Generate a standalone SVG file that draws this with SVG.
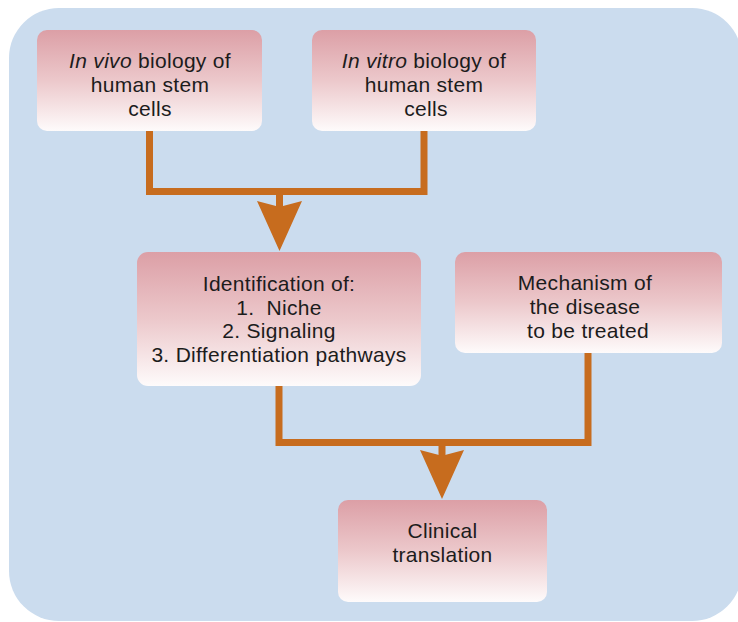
<svg xmlns="http://www.w3.org/2000/svg" width="738" height="622" viewBox="0 0 738 622">
<defs>
<linearGradient id="boxg" x1="0" y1="0" x2="0" y2="1">
<stop offset="0" stop-color="#dc9fa6"/>
<stop offset="0.5" stop-color="#ecc8cb"/>
<stop offset="1" stop-color="#fefbfb"/>
</linearGradient>
<style>
.box{fill:url(#boxg);}
.t{font-family:"Liberation Sans",Arial,sans-serif;font-size:21px;letter-spacing:0.3px;fill:#1c1c1c;text-anchor:middle;white-space:pre;}
.c{fill:none;stroke:#c76c1e;stroke-width:7;stroke-linejoin:miter;}
.ah{fill:#c76c1e;}
</style>
</defs>
<rect width="738" height="622" fill="#ffffff"/>
<rect x="9" y="8" width="733" height="613" rx="50" ry="50" fill="#cbdcee"/>
<g id="connectors">
<path class="c" d="M149.5,131 V191.5 H424 V131"/>
<path class="c" d="M279.5,191 V210"/>
<path class="ah" d="M257,201 L276,206 L283,206 L302,201 L279.5,251 Z"/>
<path class="c" d="M279,386 V442.5 H588 V353"/>
<path class="c" d="M442,442 V458"/>
<path class="ah" d="M420,450 L439,455 L445,455 L464,450 L442,499 Z"/>
</g>
<g id="invivo">
<rect class="box" x="37" y="30" width="225" height="101" rx="10"/>
<text class="t" x="150" y="68.3"><tspan font-style="italic">In vivo</tspan> biology of</text>
<text class="t" x="150" y="92.3">human stem</text>
<text class="t" x="150" y="115.8">cells</text>
</g>
<g id="invitro">
<rect class="box" x="312" y="30" width="224" height="101" rx="10"/>
<text class="t" x="424" y="68.3"><tspan font-style="italic">In vitro</tspan> biology of</text>
<text class="t" x="424" y="92.3">human stem</text>
<text class="t" x="426" y="115.8">cells</text>
</g>
<g id="identification">
<rect class="box" x="137" y="252" width="284" height="134" rx="11"/>
<text class="t" x="279" y="290.5">Identification of:</text>
<text class="t" x="279" y="315">1.  Niche</text>
<text class="t" x="279" y="338.3">2. Signaling</text>
<text class="t" x="279" y="361.7">3. Differentiation pathways</text>
</g>
<g id="mechanism">
<rect class="box" x="455" y="252" width="267" height="101" rx="10"/>
<text class="t" x="585" y="290">Mechanism of</text>
<text class="t" x="585" y="314">the disease</text>
<text class="t" x="588" y="338">to be treated</text>
</g>
<g id="clinical">
<rect class="box" x="338" y="500" width="209" height="102" rx="10"/>
<text class="t" x="442.5" y="537.5">Clinical</text>
<text class="t" x="442.5" y="562">translation</text>
</g>
</svg>
